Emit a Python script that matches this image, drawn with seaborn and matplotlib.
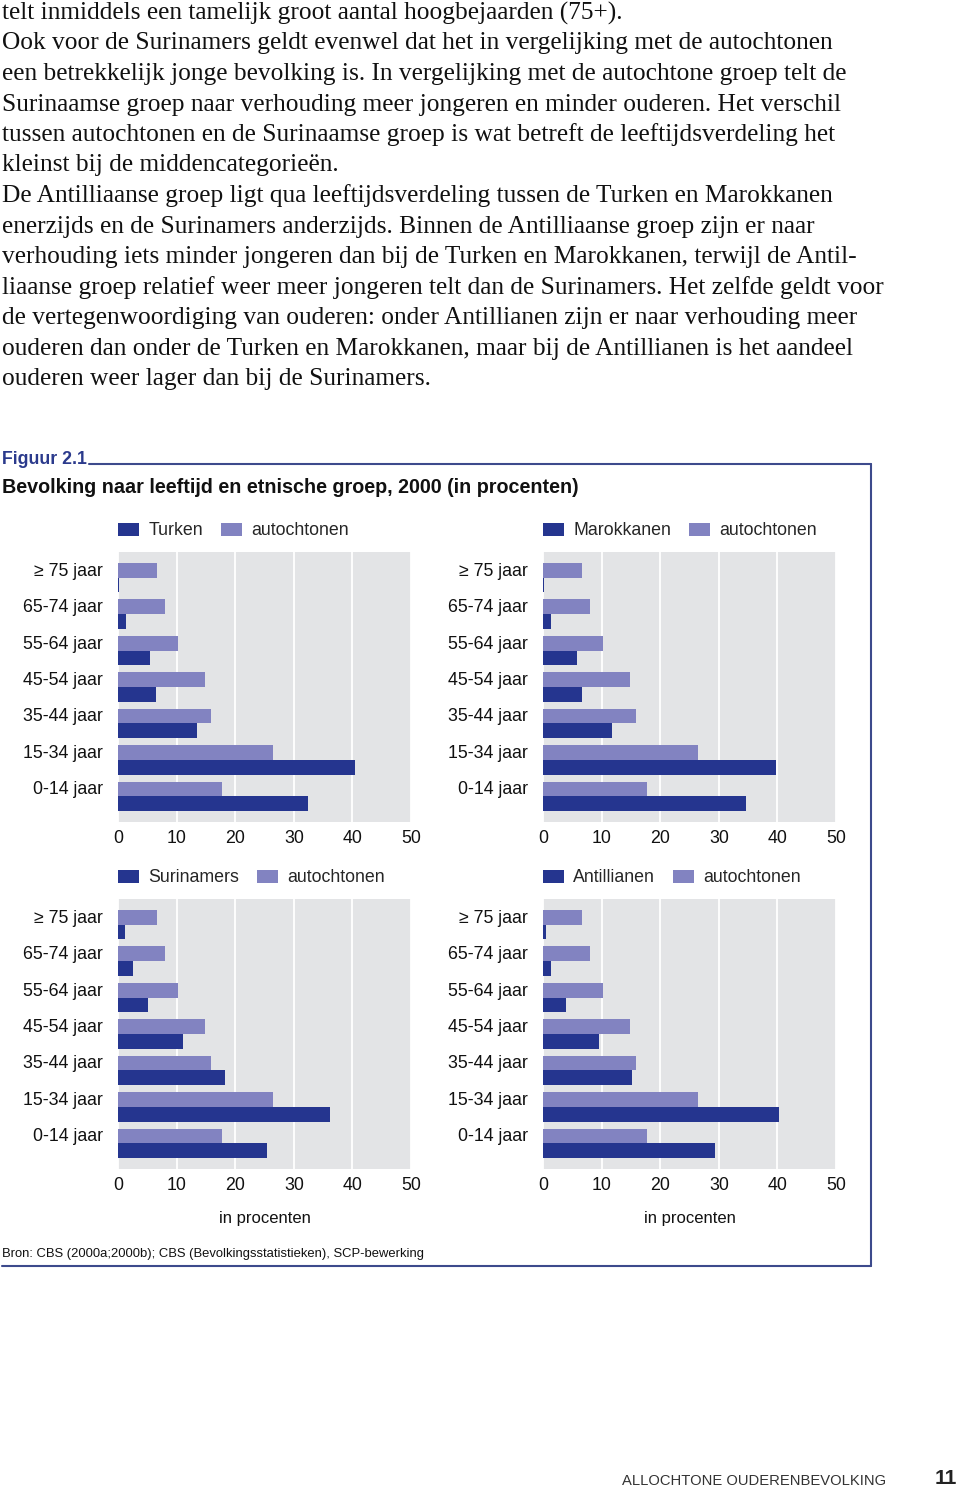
import numpy as np
import pandas as pd
import matplotlib.pyplot as plt
import matplotlib.transforms as mtransforms
import seaborn as sns
from matplotlib.lines import Line2D

# body text above the figure
body_lines = [
    "telt inmiddels een tamelijk groot aantal hoogbejaarden (75+).",
    "Ook voor de Surinamers geldt evenwel dat het in vergelijking met de autochtonen",
    "een betrekkelijk jonge bevolking is. In vergelijking met de autochtone groep telt de",
    "Surinaamse groep naar verhouding meer jongeren en minder ouderen. Het verschil",
    "tussen autochtonen en de Surinaamse groep is wat betreft de leeftijdsverdeling het",
    "kleinst bij de middencategorieën.",
    "De Antilliaanse groep ligt qua leeftijdsverdeling tussen de Turken en Marokkanen",
    "enerzijds en de Surinamers anderzijds. Binnen de Antilliaanse groep zijn er naar",
    "verhouding iets minder jongeren dan bij de Turken en Marokkanen, terwijl de Antil-",
    "liaanse groep relatief weer meer jongeren telt dan de Surinamers. Het zelfde geldt voor",
    "de vertegenwoordiging van ouderen: onder Antillianen zijn er naar verhouding meer",
    "ouderen dan onder de Turken en Marokkanen, maar bij de Antillianen is het aandeel",
    "ouderen weer lager dan bij de Surinamers.",
]

# data (percentages)
leeftijd = ["≥ 75 jaar", "65-74 jaar", "55-64 jaar", "45-54 jaar",
            "35-44 jaar", "15-34 jaar", "0-14 jaar"]
autochtonen = [6.7, 8.1, 10.3, 14.8, 15.9, 26.4, 17.7]
turken = [0.2, 1.3, 5.5, 6.5, 13.4, 40.5, 32.4]
marokkanen = [0.1, 1.3, 5.8, 6.7, 11.7, 39.8, 34.7]
surinamers = [1.2, 2.5, 5.2, 11.1, 18.3, 36.2, 25.5]
antillianen = [0.45, 1.4, 4.0, 9.5, 15.2, 40.2, 29.3]

groups = ["Turken", "Marokkanen", "Surinamers", "Antillianen"]
group_values = [turken, marokkanen, surinamers, antillianen]

dark = "#25358f"
light = "#8283c1"
frame_col = "#3d4a8c"
sans = ["Liberation Sans", "DejaVu Sans"]

sns.set_theme(style="darkgrid", rc={
    "axes.facecolor": "#e3e4e6",
    "grid.color": "white",
    "grid.linewidth": 1.3,
})
plt.rcParams["font.family"] = sans

W, H = 960, 1488
fig = plt.figure(figsize=(W / 100, H / 100), dpi=100)

def fx(px):
    return px / W

def fy(py):
    return 1 - py / H

# body text
for i, line in enumerate(body_lines):
    fig.text(fx(2), fy(13 + i * 30.5), line, family=["Liberation Serif", "DejaVu Serif"],
             fontsize=18.3, va="center", ha="left", color="#111111")

# figure header
fig.text(fx(2), fy(459), "Figuur 2.1", fontsize=12.8, fontweight="bold",
         color="#2b3a8c", va="center")
fig.text(fx(2), fy(488), "Bevolking naar leeftijd en etnische groep, 2000 (in procenten)",
         fontsize=14.2, fontweight="bold", color="#111111", va="center")

# frame lines
fig.add_artist(Line2D([fx(89), fx(871)], [fy(464), fy(464)], color=frame_col, lw=1.5))
fig.add_artist(Line2D([fx(871), fx(871)], [fy(464), fy(1266)], color=frame_col, lw=1.5))
fig.add_artist(Line2D([fx(2), fx(871)], [fy(1266), fy(1266)], color=frame_col, lw=1.5))

# panel positions (left px, top px)
panels = [(118, 552), (543, 552), (118, 899), (543, 899)]
ax_w, ax_h = 293, 270
fs = 12.8
# labels sit a bit above the centre of each bar pair
label_shift = mtransforms.ScaledTranslation(0, 0.085, fig.dpi_scale_trans)

for k, (group, vals) in enumerate(zip(groups, group_values)):
    left, top = panels[k]
    ax = fig.add_axes([fx(left), fy(top + ax_h), ax_w / W, ax_h / H])
    df = pd.DataFrame({
        "leeftijd": leeftijd * 2,
        "groep": ["autochtonen"] * len(leeftijd) + [group] * len(leeftijd),
        "procent": autochtonen + vals,
    })
    sns.barplot(data=df, y="leeftijd", x="procent", hue="groep",
                hue_order=["autochtonen", group], palette=[light, dark],
                order=leeftijd, orient="h", width=0.8, saturation=1,
                linewidth=0, ax=ax)
    ax.set_xlim(0, 50)
    ax.set_xticks([0, 10, 20, 30, 40, 50])
    ax.set_ylim(6.7, -0.7)
    ax.grid(axis="y", visible=False)
    ax.grid(axis="x", visible=True)
    for s in ax.spines.values():
        s.set_visible(False)
    ax.tick_params(axis="y", length=0, pad=11, labelsize=fs, labelcolor="#111111")
    ax.tick_params(axis="x", length=0, pad=6, labelsize=fs, labelcolor="#111111")
    for lab in ax.get_yticklabels():
        lab.set_transform(lab.get_transform() + label_shift)
    ax.set_ylabel("")
    if k >= 2:
        ax.set_xlabel("in procenten", fontsize=12, color="#111111", labelpad=12)
    else:
        ax.set_xlabel("")
    handles, labels = ax.get_legend_handles_labels()
    ax.legend(handles[::-1], labels[::-1], loc="center left",
              bbox_to_anchor=(0, 1 + 21 / ax_h), ncol=2, frameon=False,
              fontsize=fs, borderpad=0, borderaxespad=0,
              handlelength=1.2, handleheight=0.75, handletextpad=0.5,
              columnspacing=1.0)

fig.text(fx(2), fy(1254), "Bron: CBS (2000a;2000b); CBS (Bevolkingsstatistieken), SCP-bewerking",
         fontsize=9.4, color="#111111", va="center")

# page footer
fig.text(fx(622), fy(1481), "ALLOCHTONE OUDERENBEVOLKING",
         fontsize=10.6, color="#333333", va="center")
fig.text(fx(935), fy(1479), "11", fontsize=15, fontweight="bold", color="#222222", va="center")

fig.savefig("out.png", dpi=100)
